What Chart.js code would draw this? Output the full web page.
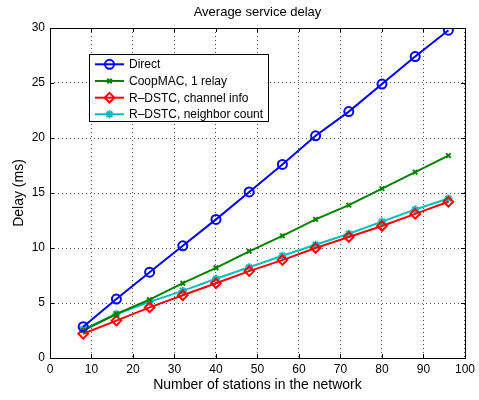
<!DOCTYPE html>
<html><head><meta charset="utf-8">
<script src="https://cdn.jsdelivr.net/npm/chart.js@4"></script>
<style>html,body{margin:0;padding:0;background:#fff}#w{width:479px;height:400px}</style>
</head><body><div id="w"><canvas id="c" width="479" height="400"></canvas></div>
<script>
const stations = [8, 16, 24, 32, 40, 48, 56, 64, 72, 80, 88, 96];
const direct = [2.85, 5.36, 7.8, 10.2, 12.6, 15.1, 17.6, 20.2, 22.4, 24.9, 27.4, 29.8];
const coopmac = [2.5, 4.0, 5.3, 6.8, 8.2, 9.7, 11.1, 12.6, 13.9, 15.4, 16.9, 18.4];
const rdstcChannel = [2.2, 3.4, 4.6, 5.7, 6.8, 7.9, 8.9, 10.0, 11.0, 12.0, 13.1, 14.2];
const rdstcNeighbor = [2.6, 4.0, 5.1, 6.1, 7.2, 8.25, 9.3, 10.3, 11.3, 12.4, 13.5, 14.5];
const seriesNames = ["Direct", "CoopMAC, 1 relay", "R\u2013DSTC, channel info", "R\u2013DSTC, neighbor count"];
const xTicks = [0,10,20,30,40,50,60,70,80,90,100];
const yTicks = [0,5,10,15,20,25,30];
const titleText = "Average service delay";
const xTitle = "Number of stations in the network";
const yTitle = "Delay (ms)";

const FONT = "'Liberation Sans', Arial, Helvetica, sans-serif";
const pts = a => stations.map((x,i)=>({x, y:a[i]}));

const styles = [
  {c:'#0000ff', ps:'circle', r:4.5, bg:'rgba(0,0,0,0)'},
  {c:'#008000', ps:'crossRot', r:3.2, bg:'#008000'},
  {c:'#ff0000', ps:'rectRot', r:4.8, bg:'rgba(0,0,0,0)'},
  {c:'#00bfbf', ps:'star', r:4, bg:'#00bfbf'}
];
const datas = [direct, coopmac, rdstcChannel, rdstcNeighbor];

const datasets = datas.map((d,i)=>({
  label: seriesNames[i],
  data: pts(d),
  borderColor: styles[i].c,
  backgroundColor: styles[i].bg,
  borderWidth: 2,
  pointStyle: styles[i].ps,
  pointRadius: styles[i].r,
  pointBorderWidth: 2,
  pointBackgroundColor: styles[i].bg,
  pointBorderColor: styles[i].c,
  tension: 0,
  fill: false
}));

const matlabPlugin = {
  id: 'matlab',
  afterDatasetsDraw(chart) {
    const {ctx, chartArea:a, scales:{x, y}} = chart;
    ctx.save();
    ctx.strokeStyle = '#000'; ctx.lineWidth = 1; ctx.setLineDash([]);
    ctx.strokeRect(Math.round(a.left)+0.5, Math.round(a.top)+0.5, Math.round(a.right-a.left), Math.round(a.bottom-a.top));
    const tl = 4;
    ctx.beginPath();
    xTicks.forEach(v=>{
      const px = Math.round(x.getPixelForValue(v))+0.5;
      ctx.moveTo(px, a.bottom); ctx.lineTo(px, a.bottom-tl);
      ctx.moveTo(px, a.top); ctx.lineTo(px, a.top+tl);
    });
    yTicks.forEach(v=>{
      const py = Math.round(y.getPixelForValue(v))+0.5;
      ctx.moveTo(a.left, py); ctx.lineTo(a.left+tl, py);
      ctx.moveTo(a.right, py); ctx.lineTo(a.right-tl, py);
    });
    ctx.stroke();
    ctx.fillStyle = '#000';
    ctx.font = '13px ' + FONT;
    ctx.textAlign = 'center'; ctx.textBaseline = 'middle';
    ctx.fillText(titleText, (a.left+a.right)/2, 12);
    const lx = 89, ly = 54, lw = 179, lh = 67;
    ctx.fillStyle = '#fff';
    ctx.fillRect(lx, ly, lw, lh);
    ctx.strokeStyle = '#000'; ctx.lineWidth = 1;
    ctx.strokeRect(lx+0.5, ly+0.5, lw, lh);
    const rowY = [64.3, 81, 97.7, 114.3];
    ctx.font = '12px ' + FONT;
    ctx.textAlign = 'left';
    chart.data.datasets.forEach((ds,i)=>{
      const yy = rowY[i];
      ctx.strokeStyle = ds.borderColor; ctx.lineWidth = 2;
      ctx.beginPath(); ctx.moveTo(95, yy); ctx.lineTo(124, yy); ctx.stroke();
      ctx.fillStyle = ds.pointBackgroundColor;
      ctx.strokeStyle = ds.borderColor;
      Chart.helpers.drawPoint(ctx, {pointStyle: ds.pointStyle, radius: ds.pointRadius, borderWidth: 2, rotation: 0}, 109.5, yy);
      ctx.fillStyle = '#000';
      ctx.fillText(ds.label, 129, yy+0.5);
    });
    ctx.restore();
  }
};

new Chart(document.getElementById('c'), {
  type: 'line',
  data: { datasets },
  options: {
    responsive: false,
    animation: false,
    layout: { padding: { left: 0, right: 12, top: 28, bottom: 0 } },
    plugins: { legend: { display: false }, title: { display: false }, tooltip: { enabled: false } },
    scales: {
      x: {
        type: 'linear', min: 0, max: 100,
        afterFit(s){ s.height = 42; },
        afterBuildTicks(s){ s.ticks = xTicks.map(v=>({value:v})); },
        ticks: { color:'#000', font:{family:FONT, size:12}, padding: 4, maxRotation:0, autoSkip:false },
        grid: { color:'#555', lineWidth:1, drawTicks:false },
        border: { display:false, dash:[1,3] },
        title: { display:true, text:xTitle, color:'#000', font:{family:FONT, size:14}, padding:{top:4, bottom:6} }
      },
      y: {
        type: 'linear', min: 0, max: 30,
        afterFit(s){ s.width = 50; },
        afterBuildTicks(s){ s.ticks = yTicks.map(v=>({value:v})); },
        ticks: { color:'#000', font:{family:FONT, size:12}, padding: 5 },
        grid: { color:'#555', lineWidth:1, drawTicks:false },
        border: { display:false, dash:[1,3] },
        title: { display:true, text:yTitle, color:'#000', font:{family:FONT, size:14}, padding:{top:11, bottom:6} }
      }
    }
  },
  plugins: [matlabPlugin]
});
</script>
</body></html>
